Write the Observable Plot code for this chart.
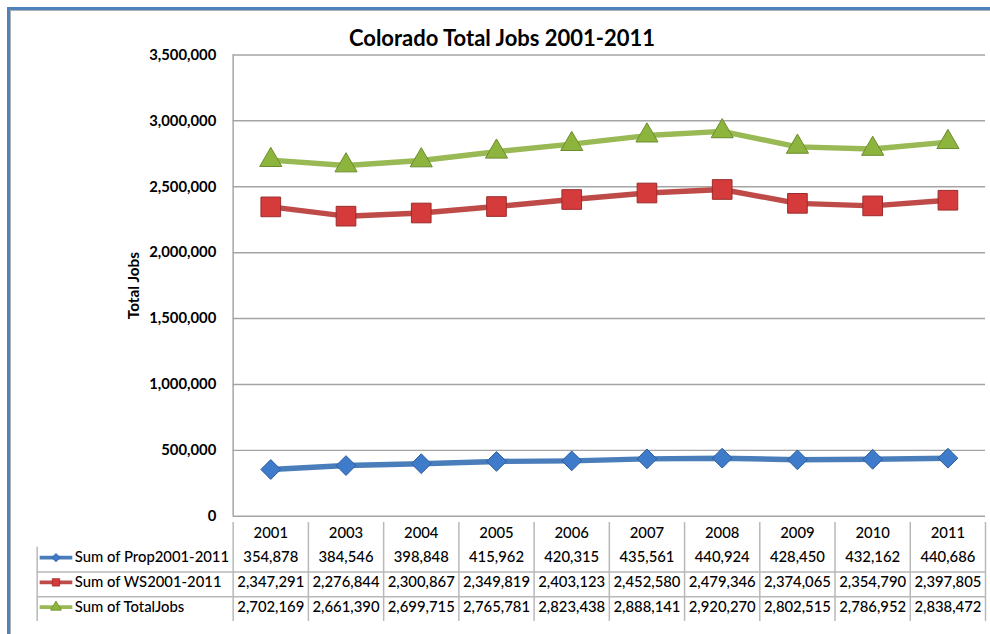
<!DOCTYPE html>
<html><head><meta charset="utf-8">
<script src="https://cdn.jsdelivr.net/npm/d3@7"></script>
<script src="https://cdn.jsdelivr.net/npm/@observablehq/plot@0.6"></script>
<style>
html,body{margin:0;padding:0;background:#fff;overflow:hidden;width:990px;height:634px;}
#wrap{position:relative;width:990px;height:634px;overflow:hidden;font-family:Lato,sans-serif;}
#border{position:absolute;left:7px;top:7px;width:1100px;height:700px;border-left:3px solid #4F81BD;border-top:3px solid #4F81BD;box-shadow:inset 1px 1px 0 #b0b0b0;}
#title{position:absolute;left:502px;top:25px;transform:translateX(-50%);font:bold 22px Lato,sans-serif;line-height:26px;white-space:nowrap;color:#000;}
#chart{position:absolute;left:0;top:0;}
#table{position:absolute;left:0;top:521px;}
svg{overflow:visible;}
</style></head>
<body><div id="wrap"><div id="border"></div><div id="title">Colorado Total Jobs 2001-2011</div><div id="chart"></div><div id="table"></div></div>
<script>
// ---- data ----
const years = ["2001","2003","2004","2005","2006","2007","2008","2009","2010","2011"];
const prop = [354878, 384546, 398848, 415962, 420315, 435561, 440924, 428450, 432162, 440686];
const ws = [2347291, 2276844, 2300867, 2349819, 2403123, 2452580, 2479346, 2374065, 2354790, 2397805];
const totalJobs = [2702169, 2661390, 2699715, 2765781, 2823438, 2888141, 2920270, 2802515, 2786952, 2838472];
const seriesNames = ["Sum of Prop2001-2011", "Sum of WS2001-2011", "Sum of TotalJobs"];
const yTicks = [0, 500000, 1000000, 1500000, 2000000, 2500000, 3000000, 3500000];
const title = "Colorado Total Jobs 2001-2011";
const yLabel = "Total Jobs";

// ---- styles ----
const styles = [
  {line: "#4A7EBB", fill: "#3F7BCB", edge: "#2E5C98", symbol: "diamond2", r: 9, lr: 3.8},
  {line: "#BE4B48", fill: "#D63B3B", edge: "#9A2B2A", symbol: "square", r: 11.2, lr: 4.2},
  {line: "#98B954", fill: "#8DB43D", edge: "#6A8C2C", symbol: "triangle", r: 8.3, lr: 4}
];
const seriesValues = [prop, ws, totalJobs];
const series = seriesNames.map((name, s) => ({name, values: seriesValues[s], ...styles[s], row: s + 1}));
const rows = series.flatMap(s => s.values.map((value, i) => ({series: s.name, i, year: years[i], value, row: s.row})));
const fmt = d3.format(",");
const grid = "#a4a4a4";
const tableLine = "#b8b8b8";
const xScale = {domain: [-0.5, years.length - 0.5], axis: null};
const boundaries = d3.range(years.length + 1).map(i => i - 0.5);

document.getElementById("title").textContent = title;

// ---- chart ----
const chart = Plot.plot({
  width: 1000, height: 524,
  marginTop: 55, marginBottom: 3, marginLeft: 235, marginRight: 5,
  x: xScale,
  y: {domain: [0, 3500000], axis: null},
  style: {fontFamily: "Lato, sans-serif", background: "transparent", color: "#000"},
  marks: [
    Plot.gridY(yTicks, {stroke: grid, strokeOpacity: 1, strokeWidth: 1.5}),
    Plot.ruleX([-0.5], {stroke: grid, strokeWidth: 1.5}),
    Plot.axisY(yTicks, {tickSize: 0, tickPadding: 17, tickFormat: fmt, fontSize: 15, fontWeight: "bold", label: null}),
    Plot.text([yLabel], {frameAnchor: "left", textAnchor: "middle", rotate: -90, dx: -100, fontSize: 15.5, fontWeight: "bold"}),
    ...series.map(s => Plot.line(rows.filter(d => d.series === s.name), {x: "i", y: "value", stroke: s.line, strokeWidth: 5.5, curve: "linear"})),
    ...series.map(s => Plot.dot(rows.filter(d => d.series === s.name), {x: "i", y: "value", symbol: s.symbol, r: s.r, fill: s.fill, stroke: s.edge, strokeWidth: 1}))
  ]
});
document.getElementById("chart").appendChild(chart);

// ---- data table ----
const table = Plot.plot({
  width: 1000, height: 113,
  marginTop: 1, marginBottom: 12, marginLeft: 235, marginRight: 5,
  x: xScale,
  y: {domain: [0, 4], reverse: true, axis: null},
  style: {fontFamily: "Lato, sans-serif", background: "transparent", color: "#000"},
  marks: [
    Plot.ruleY([2, 3], {stroke: tableLine, strokeWidth: 1.5, insetLeft: -198}),
    Plot.ruleX(boundaries, {y1: 0, y2: 4, stroke: tableLine, strokeWidth: 1.5}),
    Plot.ruleX([-0.5], {y1: 1, y2: 4, dx: -198, stroke: tableLine, strokeWidth: 1.5}),
    Plot.text(years, {x: (d, i) => i, y: 0.5, dy: -1.5, fontSize: 15, fontWeight: 500}),
    Plot.text(rows, {x: "i", y: d => d.row + 0.5, dy: -2, text: d => fmt(d.value), fontSize: 15, fontWeight: 500}),
    Plot.text(series, {x: -0.5, y: d => d.row + 0.5, dy: -2, dx: -160, text: "name", textAnchor: "start", fontSize: 15, fontWeight: 500}),
    ...series.map(s => Plot.ruleY([s], {x1: -0.5, x2: -0.5, y: d => d.row + 0.5, dy: -2, insetLeft: -195, insetRight: 162, stroke: s.line, strokeWidth: 4})),
    ...series.map(s => Plot.dot([s], {x: -0.5, y: d => d.row + 0.5, dy: -2, dx: -179, symbol: s.symbol, r: s.lr, fill: s.fill, stroke: s.edge, strokeWidth: 0.8}))
  ]
});
document.getElementById("table").appendChild(table);
</script>
</body></html>
